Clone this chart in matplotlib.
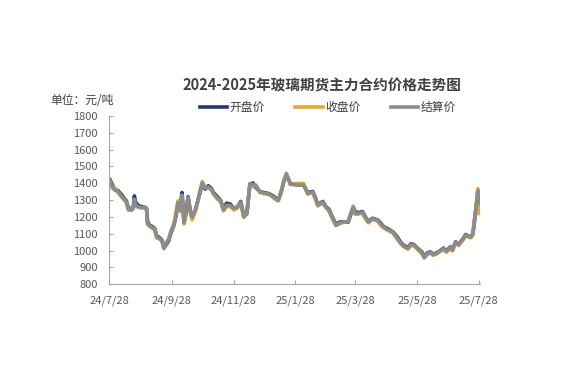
import matplotlib
matplotlib.use("Agg")
import matplotlib.pyplot as plt
import pandas as pd

plt.rcParams["font.family"] = ["Noto Sans CJK SC", "DejaVu Sans"]

TITLE = "2024-2025年玻璃期货主力合约价格走势图"
UNIT = "单位：元/吨"
SERIES_NAMES = ["开盘价", "收盘价", "结算价"]
COLORS = ["#1f3a70", "#e8a838", "#8c8c8c"]

DATES = [
    "2024-07-29", "2024-07-31", "2024-08-02", "2024-08-06", "2024-08-09", "2024-08-12",
    "2024-08-14", "2024-08-16", "2024-08-19", "2024-08-21", "2024-08-22", "2024-08-23",
    "2024-08-26", "2024-08-29", "2024-09-02", "2024-09-03", "2024-09-04", "2024-09-06",
    "2024-09-09", "2024-09-11", "2024-09-13", "2024-09-16", "2024-09-18", "2024-09-19",
    "2024-09-20", "2024-09-23", "2024-09-25", "2024-09-27", "2024-09-30", "2024-10-02",
    "2024-10-04", "2024-10-06", "2024-10-08", "2024-10-10", "2024-10-12", "2024-10-14",
    "2024-10-16", "2024-10-18", "2024-10-21", "2024-10-23", "2024-10-26", "2024-10-28",
    "2024-10-31", "2024-11-03", "2024-11-06", "2024-11-08", "2024-11-12", "2024-11-15",
    "2024-11-18", "2024-11-21", "2024-11-25", "2024-11-28", "2024-12-02", "2024-12-05",
    "2024-12-08", "2024-12-11", "2024-12-14", "2024-12-17", "2024-12-20", "2024-12-24",
    "2024-12-28", "2025-01-01", "2025-01-04", "2025-01-08", "2025-01-11", "2025-01-14",
    "2025-01-16", "2025-01-19", "2025-01-23", "2025-01-28", "2025-02-05", "2025-02-09",
    "2025-02-14", "2025-02-17", "2025-02-19", "2025-02-24", "2025-02-27", "2025-03-02",
    "2025-03-05", "2025-03-09", "2025-03-12", "2025-03-15", "2025-03-21", "2025-03-24",
    "2025-03-26", "2025-03-28", "2025-03-31", "2025-04-04", "2025-04-07", "2025-04-10",
    "2025-04-14", "2025-04-19", "2025-04-22", "2025-04-25", "2025-04-29", "2025-05-04",
    "2025-05-08", "2025-05-12", "2025-05-15", "2025-05-19", "2025-05-22", "2025-05-25",
    "2025-05-30", "2025-06-02", "2025-06-04", "2025-06-07", "2025-06-10", "2025-06-13",
    "2025-06-17", "2025-06-20", "2025-06-23", "2025-06-26", "2025-06-30", "2025-07-02",
    "2025-07-05", "2025-07-08", "2025-07-10", "2025-07-13", "2025-07-15", "2025-07-18",
    "2025-07-20", "2025-07-22", "2025-07-23", "2025-07-25", "2025-07-27", "2025-07-28",
]

OPEN = [
    1420, 1395, 1368, 1355, 1335, 1310, 1296, 1255, 1242, 1262, 1325, 1290,
    1266, 1262, 1256, 1250, 1172, 1150, 1142, 1132, 1088, 1076, 1062, 1050,
    1016, 1040, 1060, 1104, 1150, 1205, 1270, 1250, 1345, 1170, 1230, 1320,
    1245, 1190, 1235, 1282, 1350, 1395, 1365, 1385, 1370, 1345, 1320, 1300,
    1245, 1282, 1275, 1248, 1262, 1292, 1205, 1218, 1395, 1402, 1375, 1350,
    1345, 1340, 1332, 1315, 1300, 1352, 1400, 1452, 1398, 1392, 1390, 1345,
    1352, 1310, 1272, 1292, 1262, 1245, 1205, 1155, 1168, 1172, 1168, 1222,
    1258, 1232, 1225, 1232, 1200, 1172, 1192, 1182, 1165, 1142, 1130, 1112,
    1085, 1048, 1030, 1018, 1040, 1035, 1005, 990, 962, 985, 992, 978,
    988, 1000, 1015, 998, 1022, 1005, 1052, 1035, 1052, 1075, 1095, 1085,
    1080, 1100, 1142, 1245, 1350, 1275,
]

CLOSE = [
    1400, 1372, 1378, 1345, 1320, 1300, 1288, 1240, 1246, 1250, 1290, 1266,
    1256, 1252, 1260, 1245, 1155, 1144, 1130, 1124, 1075, 1068, 1055, 1040,
    1022, 1052, 1072, 1116, 1162, 1222, 1296, 1232, 1318, 1158, 1215, 1305,
    1228, 1182, 1230, 1272, 1362, 1410, 1375, 1372, 1360, 1335, 1305, 1292,
    1236, 1262, 1260, 1242, 1255, 1285, 1198, 1226, 1385, 1380, 1390, 1345,
    1338, 1335, 1325, 1305, 1296, 1345, 1410, 1460, 1392, 1398, 1400, 1335,
    1345, 1300, 1265, 1284, 1255, 1235, 1195, 1148, 1158, 1165, 1174, 1230,
    1265, 1215, 1218, 1222, 1190, 1165, 1185, 1176, 1150, 1135, 1120, 1105,
    1070, 1040, 1022, 1008, 1030, 1028, 998, 978, 955, 975, 985, 972,
    982, 995, 1008, 990, 1015, 998, 1045, 1030, 1046, 1068, 1088, 1080,
    1075, 1090, 1148, 1235, 1368, 1220,
]

SETTLE = [
    1415, 1385, 1362, 1350, 1326, 1305, 1290, 1246, 1240, 1255, 1305, 1272,
    1260, 1256, 1255, 1250, 1162, 1146, 1138, 1130, 1080, 1072, 1058, 1045,
    1012, 1045, 1066, 1110, 1152, 1212, 1286, 1240, 1330, 1165, 1225, 1315,
    1235, 1200, 1240, 1280, 1355, 1402, 1370, 1378, 1365, 1340, 1312, 1298,
    1240, 1270, 1268, 1250, 1258, 1288, 1200, 1222, 1398, 1392, 1385, 1348,
    1342, 1338, 1328, 1310, 1298, 1350, 1402, 1455, 1395, 1392, 1390, 1340,
    1348, 1305, 1270, 1288, 1258, 1240, 1200, 1150, 1162, 1170, 1170, 1225,
    1258, 1222, 1220, 1228, 1195, 1170, 1190, 1180, 1160, 1140, 1125, 1110,
    1078, 1044, 1025, 1014, 1035, 1032, 1002, 985, 960, 980, 990, 975,
    985, 998, 1014, 995, 1020, 1002, 1050, 1035, 1050, 1072, 1092, 1082,
    1080, 1098, 1140, 1240, 1355, 1280,
]

TICK_DATES = ["2024-07-28", "2024-09-28", "2024-11-28", "2025-01-28",
              "2025-03-28", "2025-05-28", "2025-07-28"]
TICK_LABELS = ["24/7/28", "24/9/28", "24/11/28", "25/1/28",
               "25/3/28", "25/5/28", "25/7/28"]

dates = pd.to_datetime(DATES)
fig = plt.figure(figsize=(5.74, 3.83), dpi=100)
ax = fig.add_axes([0.19, 0.258, 0.646, 0.439])

for name, ys, color in zip(SERIES_NAMES, [OPEN, CLOSE, SETTLE], COLORS):
    ax.plot(dates, ys, color=color, lw=2.6, label=name)

ax.set_ylim(800, 1800)
ax.set_yticks(range(800, 1801, 100))
ax.set_xlim(pd.Timestamp("2024-07-28"), pd.Timestamp("2025-07-29"))
ax.set_xticks(pd.to_datetime(TICK_DATES))
ax.set_xticklabels(TICK_LABELS)

grey = "#595959"
for s in ["top", "right"]:
    ax.spines[s].set_visible(False)
for s in ["left", "bottom"]:
    ax.spines[s].set_color("#a6a6a6")
    ax.spines[s].set_linewidth(0.8)
ax.tick_params(axis="both", colors="#a6a6a6", labelcolor=grey, labelsize=8,
               direction="in", length=3, width=0.8)
ax.tick_params(axis="y", pad=8)
ax.tick_params(axis="x", pad=8)

fig.text(0.561, 0.778, TITLE, ha="center", va="center", fontsize=10.5,
         fontweight="bold", color="#404040")
fig.text(0.143, 0.738, UNIT, ha="center", va="center", fontsize=8.5, color="#404040")

ax.legend(loc="lower center", bbox_to_anchor=(0.59, 0.985), ncol=3, frameon=False,
          fontsize=8.5, handlelength=2.3, columnspacing=2.6, handletextpad=0.2,
          labelcolor="#404040", borderaxespad=0.0)

fig.savefig("out.png", dpi=100)
